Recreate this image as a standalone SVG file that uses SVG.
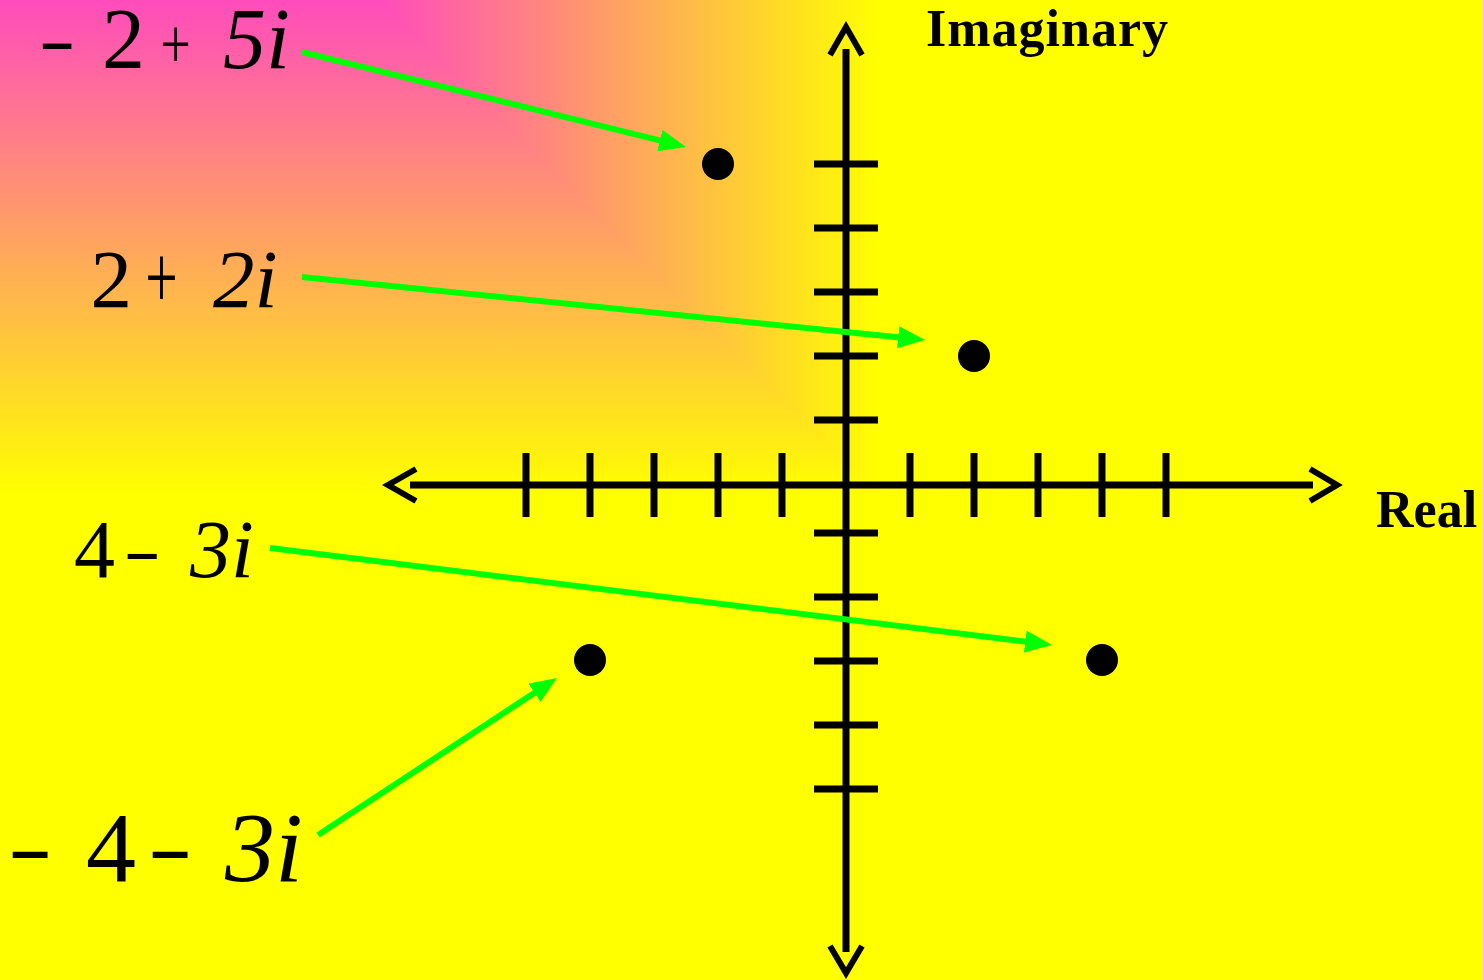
<svg xmlns="http://www.w3.org/2000/svg" width="1483" height="980" viewBox="0 0 1483 980">
<style>
.ax{stroke:#000;stroke-width:7;fill:none}
.chev{stroke:#000;stroke-width:6;fill:none;stroke-linejoin:miter;stroke-miterlimit:10}
.tick{stroke:#000;stroke-width:7}
.dot{fill:#000}
.con{stroke:#00ff00;stroke-width:6;fill:none;marker-end:url(#ah)}
.lbl{font-family:"Liberation Serif","Times New Roman",serif;fill:#000}
.it{font-style:italic}
.axl{font-family:"Liberation Serif","Times New Roman",serif;font-weight:bold;font-size:52px;fill:#000}
</style>
<defs>
<marker id="ah" markerUnits="userSpaceOnUse" markerWidth="27" markerHeight="22" viewBox="0 0 27 22" refX="7" refY="11" orient="auto"><path d="M0,0 L27,11 L0,22 z" fill="#00ff00"/></marker>
<linearGradient id="gv" gradientUnits="userSpaceOnUse" x1="0" y1="0" x2="0" y2="495">
<stop offset="0" stop-color="#ff4cbc"/><stop offset="1" stop-color="#ffff00"/>
</linearGradient>
<linearGradient id="gh" gradientUnits="userSpaceOnUse" x1="380" y1="0" x2="880" y2="0">
<stop offset="0" stop-color="#ff4cbc"/><stop offset="1" stop-color="#ffff00"/>
</linearGradient>
</defs>
<g id="background">
<rect x="0" y="0" width="1483" height="980" fill="url(#gv)"/>
<polygon points="380,0 880,495 1483,495 1483,0" fill="url(#gh)"/>
</g>
<g id="axes">
<line class="ax" x1="846" y1="49" x2="846" y2="952"/>
<polyline class="chev" points="830,55 846,27 862,55"/>
<polyline class="chev" points="830,946 846,973 862,946"/>
<line class="ax" x1="410" y1="485" x2="1313" y2="485"/>
<polyline class="chev" points="416,469 388,485 416,501"/>
<polyline class="chev" points="1310,469 1337,485 1310,501"/>
<g id="x-ticks">
<line class="tick" x1="526" y1="453" x2="526" y2="517"/>
<line class="tick" x1="590" y1="453" x2="590" y2="517"/>
<line class="tick" x1="654" y1="453" x2="654" y2="517"/>
<line class="tick" x1="718" y1="453" x2="718" y2="517"/>
<line class="tick" x1="782" y1="453" x2="782" y2="517"/>
<line class="tick" x1="910" y1="453" x2="910" y2="517"/>
<line class="tick" x1="974" y1="453" x2="974" y2="517"/>
<line class="tick" x1="1038" y1="453" x2="1038" y2="517"/>
<line class="tick" x1="1102" y1="453" x2="1102" y2="517"/>
<line class="tick" x1="1166" y1="453" x2="1166" y2="517"/>
</g>
<g id="y-ticks">
<line class="tick" x1="814" y1="164" x2="878" y2="164"/>
<line class="tick" x1="814" y1="228" x2="878" y2="228"/>
<line class="tick" x1="814" y1="292" x2="878" y2="292"/>
<line class="tick" x1="814" y1="356" x2="878" y2="356"/>
<line class="tick" x1="814" y1="420" x2="878" y2="420"/>
<line class="tick" x1="814" y1="533" x2="878" y2="533"/>
<line class="tick" x1="814" y1="597" x2="878" y2="597"/>
<line class="tick" x1="814" y1="661" x2="878" y2="661"/>
<line class="tick" x1="814" y1="725" x2="878" y2="725"/>
<line class="tick" x1="814" y1="789" x2="878" y2="789"/>
</g>
<text class="axl" x="926" y="46" letter-spacing="1">Imaginary</text>
<text class="axl" x="1376" y="527">Real</text>
</g>
<g id="point-m2p5i"><circle class="dot" cx="718" cy="164" r="16"/></g>
<g id="point-2p2i"><circle class="dot" cx="974" cy="356" r="16"/></g>
<g id="point-m4m3i"><circle class="dot" cx="590" cy="660" r="16"/></g>
<g id="point-4m3i"><circle class="dot" cx="1102" cy="660" r="16"/></g>
<g id="label-m2p5i">
<text class="lbl" font-size="110" transform="translate(38.7,62.9) scale(1,0.65)">-</text>
<text class="lbl" font-size="86" x="102" y="68">2</text>
<text class="lbl" font-size="100" transform="translate(160.4,68.3) scale(0.536,0.723)">+</text>
<text class="lbl it" font-size="86" x="223" y="68">5i</text>
</g>
<g id="label-2p2i">
<text class="lbl" font-size="83" x="90.5" y="307">2</text>
<text class="lbl" font-size="100" transform="translate(145.3,308) scale(0.575,0.91)">+</text>
<text class="lbl it" font-size="83" x="213" y="307">2i</text>
</g>
<g id="label-4m3i">
<text class="lbl" font-size="82" x="74" y="577">4</text>
<text class="lbl" font-size="112" transform="translate(123.6,572.1) scale(1,0.6)">-</text>
<text class="lbl it" font-size="82" x="190" y="577">3i</text>
</g>
<g id="label-m4m3i">
<text class="lbl" font-size="134" transform="translate(7.8,874.4) scale(1,0.62)">-</text>
<text class="lbl" font-size="100" x="86" y="881">4</text>
<text class="lbl" font-size="134" transform="translate(147.8,874.4) scale(1,0.62)">-</text>
<text class="lbl it" font-size="100" x="225" y="881">3i</text>
</g>
<g id="connectors">
<line class="con" x1="302" y1="52" x2="666.6" y2="142.2"/>
<line class="con" x1="302" y1="277" x2="905.1" y2="338"/>
<line class="con" x1="270" y1="548" x2="1032.2" y2="642.5"/>
<line class="con" x1="318" y1="835" x2="540.3" y2="689"/>
</g>
</svg>
